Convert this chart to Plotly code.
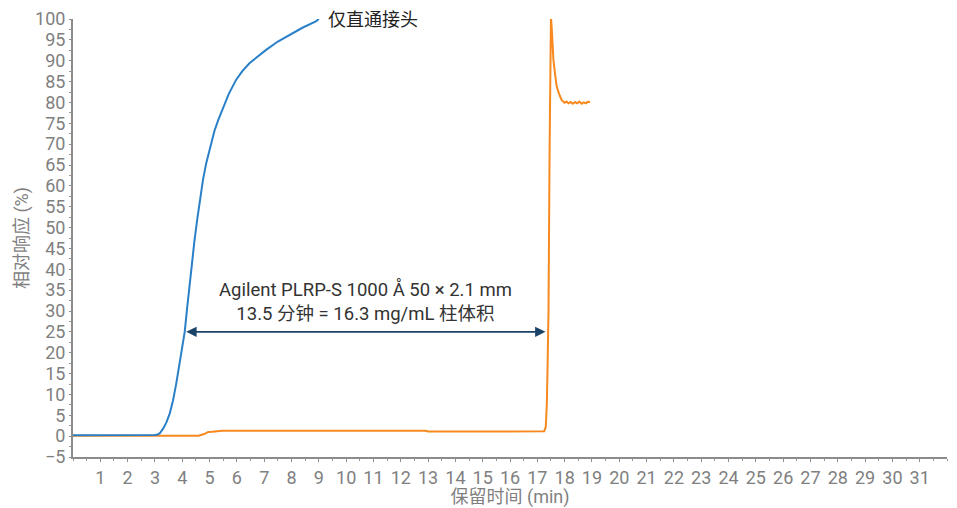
import plotly.graph_objects as go

# Blue: 仅直通接头 (connector only)
blue_time = [0.0, 1.0, 2.0, 2.8, 3.0, 3.1, 3.18, 3.3, 3.42, 3.54, 3.66, 3.78, 3.9, 4.0, 4.09, 4.18,
             4.27, 4.36, 4.45, 4.55, 4.64, 4.76, 4.88, 5.03, 5.18, 5.32, 5.46, 5.7, 5.97, 6.2,
             6.46, 6.75, 7.07, 7.5, 7.92, 8.4, 8.89, 9.0]
blue_resp = [0.2, 0.2, 0.2, 0.2, 0.3, 0.4, 0.7, 1.8, 3.3, 5.4, 8.5, 12.6, 17.5, 21.5, 25.0, 30.8,
             36.6, 42.0, 47.0, 52.0, 56.6, 61.5, 65.5, 69.5, 73.2, 75.8, 78.2, 82.0, 85.4, 87.5,
             89.4, 91.0, 92.6, 94.6, 96.2, 97.9, 99.4, 100.0]

# Orange: Agilent PLRP-S column
orange_time = [0.0, 2.0, 4.0, 4.6, 4.8, 4.95, 5.1, 5.3, 5.45, 8.0, 12.9, 13.0, 15.0, 17.25, 17.31,
               17.35, 17.38, 17.41, 17.45, 17.48, 17.5, 17.53, 17.56, 17.59, 17.65, 17.71, 17.8,
               17.89, 17.95, 18.0, 18.07, 18.14, 18.22, 18.3, 18.38, 18.46, 18.54, 18.62, 18.7,
               18.78, 18.86, 18.93]
orange_resp = [0.1, 0.1, 0.1, 0.1, 0.5, 1.0, 1.05, 1.15, 1.3, 1.3, 1.3, 1.1, 1.1, 1.15, 2.2,
               8.0, 18.0, 30.2, 68.6, 95.0, 100.5, 97.5, 94.0, 90.2, 86.8, 83.8, 82.0,
               80.6, 80.2, 79.9, 80.2, 79.8, 80.1, 79.7, 80.1, 79.8, 80.2, 79.7, 80.0,
               79.8, 80.2, 80.0]

series_label = "仅直通接头"
note_lines = ["Agilent PLRP-S 1000 Å 50 × 2.1 mm", "13.5 分钟 = 16.3 mg/mL 柱体积"]
arrow_start, arrow_end, arrow_level = 4.09, 17.3, 25

x_title = "保留时间 (min)"
y_title = "相对响应 (%)"

BLUE = "#2a80c8"
ORANGE = "#f7891f"
GRAY = "#7f7f7f"
FONT = "Roboto, 'Noto Sans CJK SC', sans-serif"

fig = go.Figure()
fig.add_trace(go.Scatter(x=orange_time, y=orange_resp, mode="lines",
                         line=dict(color=ORANGE, width=2), showlegend=False))
fig.add_trace(go.Scatter(x=blue_time, y=blue_resp, mode="lines",
                         line=dict(color=BLUE, width=2), showlegend=False))

fig.add_annotation(x=blue_time[-1] + 0.27, y=blue_resp[-1], text=series_label, showarrow=False,
                   xanchor="left", yanchor="middle", font=dict(size=18, color="#222222", family=FONT))

fig.add_annotation(x=arrow_end, y=arrow_level, ax=arrow_start, ay=arrow_level,
                   xref="x", yref="y", axref="x", ayref="y", text="",
                   showarrow=True, arrowhead=2, startarrowhead=2, arrowside="end+start",
                   arrowsize=1.3, startarrowsize=1.3, arrowwidth=1.6, arrowcolor="#1b4368")

fig.add_annotation(x=(arrow_start + arrow_end) / 2, y=32.2, text="<br>".join(note_lines),
                   showarrow=False, xanchor="center", yanchor="middle",
                   font=dict(size=18.5, color="#333333", family=FONT))

# the page body adds an 8px margin, so the figure is sized to fit the remaining window
fig.update_layout(
    width=949, height=500,
    margin=dict(l=65, r=10, t=11, b=51),
    plot_bgcolor="white", paper_bgcolor="white",
    font=dict(family=FONT, color=GRAY),
    xaxis=dict(range=[0, 32], tickmode="array", tickvals=list(range(1, 32)),
               ticktext=[str(i) for i in range(1, 32)], automargin=False,
               showgrid=False, zeroline=False, showline=True, linecolor="#8c8c8c", linewidth=2,
               ticks="outside", ticklen=3, tickcolor="#8c8c8c",
               minor=dict(dtick=0.5, tick0=0, ticks="outside", ticklen=2, tickcolor="#9a9a9a", showgrid=False),
               tickfont=dict(size=18, color=GRAY),
               title=dict(text=x_title, font=dict(size=18, color=GRAY), standoff=1)),
    yaxis=dict(range=[-5, 100], tickmode="linear", tick0=-5, dtick=5, automargin=False,
               showgrid=False, zeroline=False, showline=True, linecolor="#8c8c8c", linewidth=2,
               ticks="outside", ticklen=2, tickcolor="#8c8c8c",
               minor=dict(dtick=2.5, tick0=0, ticks="outside", ticklen=2, tickcolor="#9a9a9a", showgrid=False),
               tickfont=dict(size=18, color=GRAY),
               title=dict(text=y_title, font=dict(size=18, color=GRAY), standoff=2)),
)

fig.write_html("out.html")
